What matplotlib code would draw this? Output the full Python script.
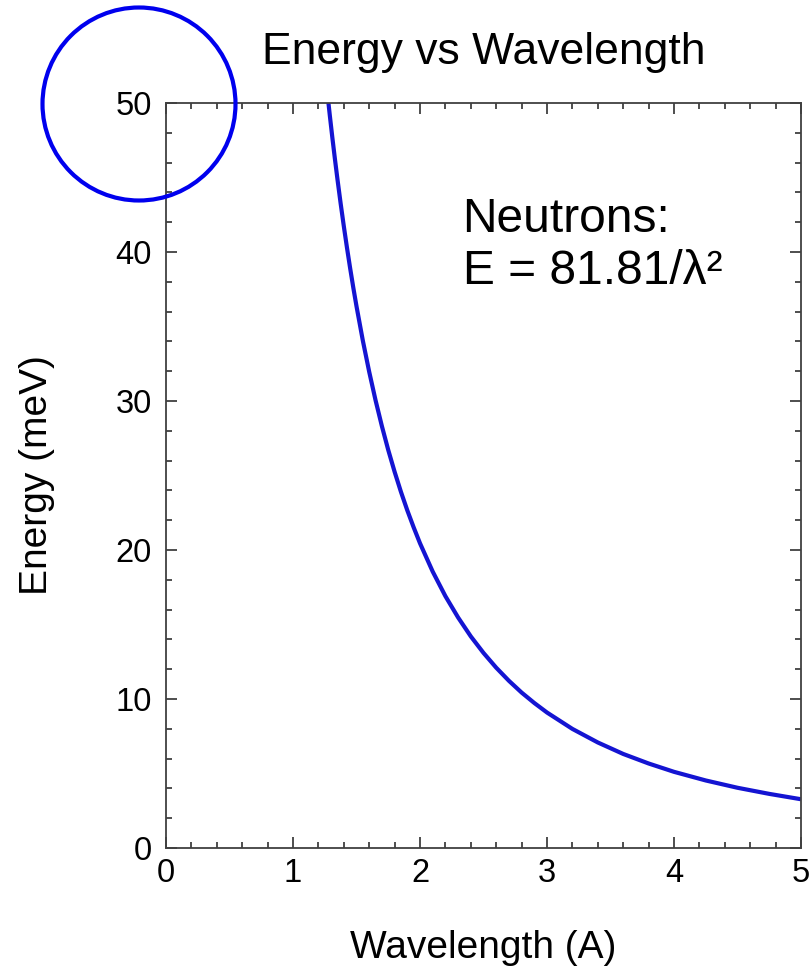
import matplotlib
matplotlib.use("Agg")
import matplotlib.pyplot as plt
from matplotlib.patches import Circle
from matplotlib.ticker import MultipleLocator

plt.rcParams['font.family'] = ['Liberation Sans', 'DejaVu Sans']

# neutron energy (meV) against wavelength (A)
wavelength = [1.27, 1.29, 1.31, 1.33, 1.35, 1.375, 1.40, 1.425, 1.45, 1.475, 1.50,
              1.55, 1.60, 1.65, 1.70, 1.75, 1.80, 1.85, 1.90, 1.95, 2.00, 2.10,
              2.20, 2.30, 2.40, 2.50, 2.60, 2.70, 2.80, 2.90, 3.00, 3.20, 3.40,
              3.60, 3.80, 4.00, 4.25, 4.50, 4.75, 5.00]
energy = [50.72, 49.16, 47.67, 46.25, 44.89, 43.27, 41.74, 40.29, 38.91, 37.60, 36.36,
          34.05, 31.96, 30.05, 28.31, 26.71, 25.25, 23.90, 22.66, 21.52, 20.45, 18.55,
          16.90, 15.47, 14.20, 13.09, 12.10, 11.22, 10.43, 9.73, 9.09, 7.99, 7.08,
          6.31, 5.67, 5.11, 4.53, 4.04, 3.63, 3.27]

fig = plt.figure(figsize=(8.12, 9.68), dpi=100)
ax = fig.add_axes([0.2044, 0.124, 0.7821, 0.7696])

ax.plot(wavelength, energy, color='#1414d2', linewidth=3.0,
        solid_joinstyle='round', solid_capstyle='butt')

ax.set_xlim(0, 5)
ax.set_ylim(0, 50)
ax.xaxis.set_major_locator(MultipleLocator(1))
ax.xaxis.set_minor_locator(MultipleLocator(0.2))
ax.yaxis.set_major_locator(MultipleLocator(10))
ax.yaxis.set_minor_locator(MultipleLocator(2))

edge = '#404040'
for sp in ax.spines.values():
    sp.set_color(edge)
    sp.set_linewidth(1.3)
ax.tick_params(which='both', direction='in', top=True, right=True,
               color=edge, width=1.3, labelsize=23.5, labelcolor='black')
ax.tick_params(which='major', length=8, pad=7)
ax.tick_params(axis='y', which='major', pad=10)
ax.tick_params(which='minor', length=4)

ax.set_xlabel('Wavelength (A)', fontsize=28, labelpad=30)
ax.set_ylabel('Energy (meV)', fontsize=28, labelpad=44)
ax.set_title('Energy vs Wavelength', fontsize=32, pad=28)

ax.text(0.467, 0.874, 'Neutrons:\nE = 81.81/\u03bb\u00b2', transform=ax.transAxes,
        fontsize=34.5, va='top', ha='left', linespacing=1.2)

# highlight ring around the top of the energy scale
ring = Circle((1.39, 8.64), 0.965, transform=fig.dpi_scale_trans,
              fill=False, edgecolor='#0000ee', linewidth=3.0, clip_on=False)
fig.add_artist(ring)

fig.savefig('out.png', dpi=100)
